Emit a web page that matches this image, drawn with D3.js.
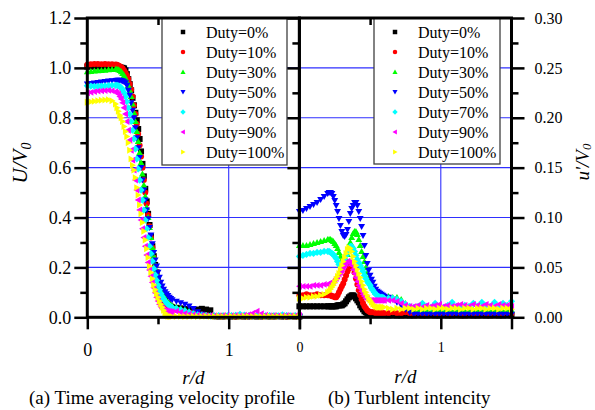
<!DOCTYPE html>
<html><head><meta charset="utf-8">
<script src="https://cdn.jsdelivr.net/npm/d3@7"></script>
<style>
body{margin:0;background:#fff}
svg{display:block}
</style>
</head><body><svg id="c" width="595" height="410"></svg>
<script>
// ---------------- DATA ----------------
const R = [0,0.025,0.05,0.075,0.1,0.125,0.15,0.175,
0.20,0.21,0.22,0.23,0.24,0.25,0.26,0.27,0.28,0.29,
0.30,0.31,0.32,0.33,0.34,0.35,0.36,0.37,0.38,0.39,
0.40,0.41,0.42,0.43,0.44,0.45,0.46,0.47,0.48,0.49,
0.50,0.51,0.52,0.53,0.54,0.55,0.56,0.57,0.58,0.59,0.60,
0.63,0.66,0.69,0.72,0.75,0.78,0.81,0.84,0.87,0.90,
0.93,0.96,0.99,1.02,1.05,1.08,1.11,1.14,1.17,1.20,
1.23,1.26,1.29,1.32,1.35,1.38,1.41,1.44,1.47,1.50];

const seriesNames = ["Duty=0%","Duty=10%","Duty=30%","Duty=50%","Duty=70%","Duty=90%","Duty=100%"];
const seriesColors = ["#000000","#ff0000","#00ff00","#0000ff","#00ffff","#ff00ff","#ffff00"];

// (a) time-averaged velocity U/V0
const U_0 = [1.005,1.005,1.006,1.006,1.005,1.006,1.005,1.005,
1.004,1.004,1.003,1.002,1.001,1.0,0.998,0.99,0.975,0.955,
0.935,0.91,0.88,0.85,0.82,0.79,0.755,0.715,0.665,0.615,
0.565,0.515,0.465,0.415,0.37,0.325,0.285,0.245,0.21,0.18,
0.152,0.128,0.108,0.092,0.078,0.067,0.058,0.052,0.047,0.043,0.04,
0.038,0.036,0.033,0.03,0.027,0.031,0.034,0.031,0.028,0.004,
0.003,0.003,0.004,0.003,0.003,0.004,0.003,0.003,0.004,0.003,
0.003,0.004,0.003,0.003,0.004,0.003,0.003,0.004,0.003,0.003];
const U_10 = [1.013,1.015,1.016,1.016,1.015,1.016,1.015,1.015,
1.014,1.013,1.01,1.007,1.003,0.998,0.99,0.98,0.97,0.955,
0.935,0.913,0.885,0.85,0.815,0.775,0.735,0.69,0.645,0.60,
0.55,0.50,0.455,0.41,0.365,0.32,0.28,0.24,0.205,0.175,
0.145,0.12,0.10,0.083,0.07,0.06,0.052,0.046,0.041,0.037,0.034,
0.03,0.027,0.022,0.018,0.02,0.015,0.01,0.007,0.005,0.004,
0.004,0.003,0.004,0.004,0.003,0.004,0.004,0.003,0.004,0.004,
0.003,0.004,0.004,0.003,0.004,0.004,0.003,0.004,0.004,0.003];
const U_30 = [0.985,0.986,0.988,0.989,0.99,0.991,0.993,0.994,
0.995,0.995,0.993,0.99,0.985,0.978,0.97,0.96,0.945,0.93,
0.91,0.885,0.855,0.82,0.785,0.745,0.705,0.66,0.62,0.575,
0.53,0.485,0.44,0.40,0.36,0.32,0.28,0.245,0.21,0.18,
0.155,0.13,0.112,0.097,0.085,0.075,0.067,0.06,0.055,0.05,0.046,
0.04,0.035,0.03,0.024,0.018,0.012,0.008,0.006,0.005,0.005,
0.005,0.006,0.005,0.005,0.006,0.005,0.005,0.006,0.005,0.005,
0.006,0.005,0.005,0.006,0.005,0.005,0.006,0.005,0.005,0.006];
const U_50 = [0.935,0.937,0.939,0.941,0.943,0.945,0.947,0.948,
0.949,0.95,0.95,0.95,0.949,0.947,0.944,0.94,0.93,0.91,
0.89,0.86,0.83,0.80,0.76,0.72,0.68,0.64,0.60,0.55,
0.51,0.47,0.43,0.395,0.36,0.33,0.295,0.26,0.23,0.205,
0.18,0.16,0.14,0.125,0.112,0.102,0.094,0.087,0.08,0.075,0.07,
0.064,0.058,0.052,0.045,0.035,0.022,0.012,0.006,0.005,0.005,
0.005,0.004,0.005,0.005,0.004,0.005,0.005,0.004,0.005,0.005,
0.004,0.005,0.005,0.004,0.005,0.005,0.004,0.005,0.005,0.004];
const U_70 = [0.928,0.927,0.926,0.926,0.927,0.928,0.929,0.93,
0.93,0.93,0.928,0.925,0.92,0.912,0.90,0.885,0.865,0.84,
0.815,0.785,0.75,0.715,0.675,0.635,0.595,0.55,0.51,0.47,
0.43,0.39,0.355,0.32,0.285,0.255,0.225,0.195,0.17,0.148,
0.128,0.11,0.095,0.083,0.073,0.065,0.058,0.052,0.047,0.043,0.04,
0.035,0.03,0.026,0.02,0.014,0.01,0.008,0.007,0.006,0.006,
0.007,0.006,0.006,0.007,0.008,0.012,0.009,0.006,0.006,0.007,
0.006,0.006,0.007,0.006,0.006,0.01,0.007,0.006,0.007,0.006];
const U_90 = [0.90,0.902,0.905,0.907,0.908,0.909,0.91,0.908,
0.905,0.90,0.895,0.885,0.875,0.86,0.84,0.815,0.785,0.75,
0.71,0.67,0.63,0.59,0.55,0.51,0.47,0.43,0.39,0.355,
0.32,0.285,0.25,0.22,0.19,0.165,0.14,0.118,0.098,0.08,
0.065,0.052,0.042,0.035,0.03,0.027,0.025,0.024,0.023,0.022,0.022,
0.024,0.02,0.015,0.012,0.01,0.008,0.007,0.006,0.007,0.006,
0.006,0.007,0.006,0.006,0.007,0.006,0.008,0.01,0.016,0.024,
0.014,0.008,0.006,0.007,0.006,0.006,0.007,0.006,0.006,0.007];
const U_100 = [0.862,0.864,0.866,0.868,0.87,0.871,0.872,0.868,
0.855,0.84,0.826,0.81,0.80,0.785,0.765,0.745,0.725,0.70,
0.67,0.635,0.61,0.59,0.56,0.52,0.49,0.45,0.415,0.38,
0.345,0.31,0.275,0.24,0.205,0.18,0.155,0.13,0.11,0.095,
0.08,0.065,0.052,0.04,0.028,0.017,0.008,0.004,0.003,0.003,0.003,
0.003,0.004,0.003,0.003,0.004,0.003,0.003,0.004,0.003,0.003,
0.004,0.003,0.003,0.004,0.003,0.003,0.004,0.003,0.003,0.004,
0.003,0.003,0.004,0.003,0.003,0.004,0.003,0.003,0.004,0.003];

// (b) turbulent intensity u'/V0
const T_0 = [0.011,0.011,0.011,0.011,0.011,0.011,0.011,0.011,
0.011,0.011,0.011,0.011,0.011,0.011,0.011,0.012,0.012,0.012,
0.012,0.013,0.014,0.016,0.018,0.02,0.021,0.022,0.022,0.021,
0.019,0.017,0.015,0.012,0.01,0.008,0.006,0.005,0.004,0.003,
0.003,0.003,0.003,0.003,0.003,0.003,0.003,0.003,0.003,0.003,0.003,
0.002,0.003,0.002,0.002,0.003,0.002,0.002,0.003,0.002,0.002,
0.003,0.002,0.002,0.003,0.002,0.002,0.003,0.002,0.002,0.003,
0.002,0.002,0.003,0.002,0.002,0.003,0.002,0.002,0.003,0.002];
const T_10 = [0.022,0.022,0.023,0.022,0.022,0.023,0.022,0.022,
0.022,0.022,0.022,0.021,0.021,0.02,0.02,0.022,0.025,0.028,
0.031,0.034,0.038,0.042,0.046,0.049,0.052,0.052,0.05,0.045,
0.039,0.033,0.027,0.022,0.018,0.014,0.011,0.009,0.007,0.006,
0.005,0.005,0.005,0.005,0.004,0.004,0.004,0.004,0.004,0.004,0.004,
0.004,0.005,0.004,0.004,0.005,0.004,0.004,0.005,0.004,0.004,
0.005,0.004,0.004,0.005,0.004,0.004,0.005,0.004,0.004,0.005,
0.004,0.004,0.005,0.004,0.004,0.005,0.004,0.004,0.005,0.004];
const T_30 = [0.072,0.072,0.072,0.073,0.074,0.075,0.076,0.077,
0.078,0.078,0.078,0.077,0.076,0.074,0.072,0.069,0.065,0.061,
0.058,0.056,0.056,0.058,0.063,0.069,0.075,0.08,0.084,0.086,
0.086,0.083,0.078,0.072,0.066,0.061,0.056,0.05,0.045,0.04,
0.036,0.032,0.029,0.027,0.025,0.024,0.023,0.022,0.022,0.021,0.021,
0.021,0.02,0.02,0.018,0.014,0.01,0.008,0.007,0.006,0.007,
0.006,0.007,0.006,0.006,0.007,0.006,0.006,0.007,0.006,0.006,
0.007,0.006,0.006,0.007,0.006,0.006,0.007,0.006,0.006,0.007];
const T_50 = [0.106,0.107,0.109,0.111,0.113,0.115,0.118,0.121,
0.124,0.125,0.125,0.124,0.121,0.117,0.112,0.106,0.099,0.092,
0.086,0.082,0.081,0.083,0.088,0.096,0.104,0.109,0.112,0.115,
0.115,0.112,0.106,0.099,0.091,0.082,0.072,0.062,0.054,0.047,
0.042,0.038,0.035,0.031,0.028,0.026,0.025,0.024,0.023,0.022,0.021,
0.02,0.018,0.015,0.012,0.008,0.005,0.003,0.003,0.003,0.003,
0.003,0.003,0.003,0.003,0.003,0.003,0.003,0.003,0.003,0.003,
0.003,0.003,0.003,0.003,0.003,0.003,0.003,0.003,0.003,0.003];
const T_70 = [0.061,0.062,0.063,0.064,0.064,0.065,0.065,0.066,
0.066,0.066,0.065,0.064,0.063,0.061,0.059,0.056,0.053,0.051,
0.051,0.053,0.057,0.062,0.066,0.069,0.071,0.071,0.069,0.066,
0.062,0.058,0.055,0.052,0.049,0.046,0.042,0.039,0.036,0.034,
0.032,0.029,0.027,0.025,0.023,0.022,0.021,0.02,0.02,0.02,0.019,
0.019,0.019,0.018,0.016,0.013,0.011,0.01,0.011,0.014,0.011,
0.01,0.014,0.011,0.01,0.012,0.015,0.011,0.01,0.012,0.011,
0.014,0.011,0.015,0.012,0.011,0.015,0.011,0.014,0.012,0.016];
const T_90 = [0.031,0.031,0.031,0.031,0.032,0.032,0.032,0.033,
0.033,0.034,0.034,0.035,0.036,0.037,0.039,0.041,0.043,0.045,
0.047,0.05,0.052,0.054,0.056,0.056,0.055,0.052,0.048,0.044,
0.04,0.036,0.032,0.029,0.026,0.023,0.021,0.019,0.018,0.017,
0.017,0.017,0.017,0.017,0.017,0.017,0.017,0.017,0.017,0.017,0.017,
0.017,0.017,0.016,0.014,0.012,0.011,0.011,0.012,0.01,0.012,
0.011,0.012,0.013,0.011,0.012,0.011,0.012,0.013,0.012,0.011,
0.013,0.012,0.011,0.013,0.012,0.011,0.013,0.012,0.012,0.011];
const T_100 = [0.019,0.019,0.02,0.02,0.021,0.021,0.022,0.023,
0.025,0.026,0.028,0.03,0.032,0.035,0.038,0.041,0.044,0.048,
0.052,0.056,0.06,0.064,0.068,0.07,0.069,0.066,0.061,0.056,
0.052,0.048,0.044,0.04,0.036,0.032,0.028,0.025,0.022,0.019,
0.017,0.015,0.013,0.012,0.011,0.01,0.01,0.01,0.01,0.01,0.01,
0.009,0.008,0.009,0.008,0.009,0.009,0.008,0.009,0.008,0.009,
0.009,0.008,0.009,0.009,0.008,0.009,0.009,0.008,0.009,0.009,
0.008,0.009,0.009,0.008,0.009,0.009,0.008,0.009,0.009,0.008];

const velocitySeries = [U_0,U_10,U_30,U_50,U_70,U_90,U_100];
const turbulenceSeries = [T_0,T_10,T_30,T_50,T_70,T_90,T_100];

const xMajorTicks = [0,1,1.5];
const xMinorTicks = [0.5];
const xTickLabels = {0:"0",1:"1"};
const yLeftMajor = [0,0.2,0.4,0.6,0.8,1.0,1.2];
const yLeftMinor = [0.1,0.3,0.5,0.7,0.9,1.1];
const yLeftGrid = [0.2,0.4,0.6,0.8,1.0];
const yRightMajor = [0,0.05,0.10,0.15,0.20,0.25,0.30];
const yRightMinor = [0.025,0.075,0.125,0.175,0.225,0.275];
const yRightGrid = [0.05,0.10,0.15,0.20,0.25];
const captionA = "(a) Time averaging velocity profile";
const captionB = "(b) Turblent intencity";

const FONT = "Liberation Serif";

// ---------------- SYMBOLS ----------------
const mk = f => ({draw(ctx,size){const s=Math.sqrt(size)/2; f(ctx,s);}});
const symbolTypes = [
  mk((c,s)=>{c.moveTo(-s,-s);c.lineTo(s,-s);c.lineTo(s,s);c.lineTo(-s,s);c.closePath();}),
  mk((c,s)=>{c.moveTo(s,0);c.arc(0,0,s,0,2*Math.PI);}),
  mk((c,s)=>{c.moveTo(0,-1.15*s);c.lineTo(1.15*s,0.85*s);c.lineTo(-1.15*s,0.85*s);c.closePath();}),
  mk((c,s)=>{c.moveTo(0,1.15*s);c.lineTo(1.15*s,-0.85*s);c.lineTo(-1.15*s,-0.85*s);c.closePath();}),
  mk((c,s)=>{c.moveTo(0,-1.2*s);c.lineTo(1.2*s,0);c.lineTo(0,1.2*s);c.lineTo(-1.2*s,0);c.closePath();}),
  mk((c,s)=>{c.moveTo(-1.15*s,0);c.lineTo(0.85*s,-1.15*s);c.lineTo(0.85*s,1.15*s);c.closePath();}),
  mk((c,s)=>{c.moveTo(1.15*s,0);c.lineTo(-0.85*s,-1.15*s);c.lineTo(-0.85*s,1.15*s);c.closePath();})
];

// ---------------- SCALES ----------------
const svg = d3.select("#c").attr("font-family",FONT);
const yTop = 18, yBottom = 317.3;
const xL = d3.scaleLinear().domain([0,1.5]).range([87.3,299.4]);
const yL = d3.scaleLinear().domain([0,1.2]).range([yBottom,yTop]);
const xR = d3.scaleLinear().domain([0,1.5]).range([299.4,511.5]);
const yR = d3.scaleLinear().domain([0,0.3]).range([yBottom,yTop]);

const gridColor = "#2f2fff";

function panel(x, y, ygrid, series, legendX, legendW, legendH) {
  const g = svg.append("g");
  g.selectAll(".hg").data(ygrid).join("line")
    .attr("x1",x(0)).attr("x2",x(1.5)).attr("y1",d=>y(d)).attr("y2",d=>y(d))
    .attr("stroke",gridColor).attr("stroke-width",1.1);
  g.append("line").attr("x1",x(1)).attr("x2",x(1)).attr("y1",y.range()[0]).attr("y2",y.range()[1])
    .attr("stroke",gridColor).attr("stroke-width",1.1);
  series.forEach((vals,i)=>{
    const sym = d3.symbol().type(symbolTypes[i]).size(36);
    g.append("g").selectAll("path").data(R.map((r,k)=>[r,vals[k]])).join("path")
      .attr("transform",d=>`translate(${x(d[0])},${y(d[1])})`)
      .attr("d",sym).attr("fill",seriesColors[i]);
  });
  const lg = svg.append("g");
  lg.append("rect").attr("x",legendX).attr("y",yTop).attr("width",legendW).attr("height",legendH)
    .attr("fill","#fff").attr("stroke","#404040").attr("stroke-width",1.3);
  seriesNames.forEach((n,i)=>{
    const cy = yTop + 14 + i*20;
    lg.append("path").attr("transform",`translate(${legendX+21},${cy})`)
      .attr("d",d3.symbol().type(symbolTypes[i]).size(20)).attr("fill",seriesColors[i]);
    lg.append("text").attr("x",legendX+44).attr("y",cy+5.5).attr("font-size",16)
      .attr("font-family",FONT).text(n);
  });
  return g;
}

panel(xL, yL, yLeftGrid, velocitySeries, 162, 125, 147);
panel(xR, yR, yRightGrid, turbulenceSeries, 374, 126, 146);

// ---------------- AXES ----------------
function styleAxis(sel, w){
  sel.attr("font-family",FONT);
  sel.select(".domain").remove();
  sel.selectAll(".tick line").attr("stroke","#000").attr("stroke-width",w);
  sel.selectAll("text").attr("font-family",FONT).attr("fill","#000");
}
const ax = svg.append("g");
ax.append("g").attr("transform",`translate(${xL(0)},0)`)
  .call(d3.axisLeft(yL).tickValues(yLeftMajor).tickSize(13).tickPadding(3).tickFormat(d3.format(".1f")))
  .call(s=>styleAxis(s,2.5)).selectAll("text").attr("font-size",18);
ax.append("g").attr("transform",`translate(${xL(0)},0)`)
  .call(d3.axisLeft(yL).tickValues(yLeftMinor).tickSize(7).tickFormat(""))
  .call(s=>styleAxis(s,2.5));
ax.append("g").attr("transform",`translate(${xR(0)},0)`)
  .call(d3.axisLeft(yR).tickValues(yRightMajor).tickSize(12).tickFormat(""))
  .call(s=>styleAxis(s,2.5));
ax.append("g").attr("transform",`translate(${xR(0)},0)`)
  .call(d3.axisLeft(yR).tickValues(yRightMinor).tickSize(7).tickFormat(""))
  .call(s=>styleAxis(s,2.5));
ax.append("g").attr("transform",`translate(${xR(1.5)},0)`)
  .call(d3.axisRight(yR).tickValues(yRightMajor).tickSize(13).tickPadding(10).tickFormat(d3.format(".2f")))
  .call(s=>styleAxis(s,2.5)).selectAll("text").attr("font-size",16);
ax.append("g").attr("transform",`translate(${xR(1.5)},0)`)
  .call(d3.axisRight(yR).tickValues(yRightMinor).tickSize(7).tickFormat(""))
  .call(s=>styleAxis(s,2.5));
ax.append("g").attr("transform",`translate(0,${yBottom})`)
  .call(d3.axisBottom(xL).tickValues(xMajorTicks).tickSize(12).tickPadding(14).tickFormat(d=>xTickLabels[d]||""))
  .call(s=>styleAxis(s,2.5)).selectAll("text").attr("font-size",18);
ax.append("g").attr("transform",`translate(0,${yBottom})`)
  .call(d3.axisBottom(xL).tickValues(xMinorTicks).tickSize(7).tickFormat(""))
  .call(s=>styleAxis(s,2.5));
ax.append("g").attr("transform",`translate(0,${yBottom})`)
  .call(d3.axisBottom(xR).tickValues(xMajorTicks).tickSize(12).tickPadding(13).tickFormat(d=>xTickLabels[d]||""))
  .call(s=>styleAxis(s,2.5)).selectAll("text").attr("font-size",14);
ax.append("g").attr("transform",`translate(0,${yBottom})`)
  .call(d3.axisBottom(xR).tickValues(xMinorTicks).tickSize(7).tickFormat(""))
  .call(s=>styleAxis(s,2.5));
ax.append("g").attr("transform",`translate(0,${yTop})`)
  .call(d3.axisTop(xL).tickValues(xMinorTicks).tickSize(-7).tickFormat(""))
  .call(s=>styleAxis(s,2.5));
ax.append("g").attr("transform",`translate(0,${yTop})`)
  .call(d3.axisTop(xR).tickValues(xMinorTicks).tickSize(-7).tickFormat(""))
  .call(s=>styleAxis(s,2.5));

[[xL,yL],[xR,yR]].forEach(([x,y])=>{
  ax.append("rect").attr("x",x(0)).attr("y",y(y.domain()[1])).attr("width",x(1.5)-x(0)).attr("height",y(0)-y(y.domain()[1]))
    .attr("fill","none").attr("stroke","#000").attr("stroke-width",3);
});

// ---------------- TITLES ----------------
const tl = svg.append("text").attr("transform","translate(27,163) rotate(-90)")
  .attr("text-anchor","middle").attr("font-size",21).attr("font-style","italic").attr("font-family",FONT);
tl.append("tspan").text("U/V");
tl.append("tspan").attr("font-size",14).attr("dy",4).text("0");

const tr = svg.append("text").attr("transform","translate(589,162) rotate(-90)")
  .attr("text-anchor","middle").attr("font-size",19).attr("font-style","italic").attr("font-family",FONT);
tr.append("tspan").text("u'/V");
tr.append("tspan").attr("font-size",13).attr("dy",2).text("0");

svg.append("text").attr("x",(xL(0)+xL(1.5))/2).attr("y",384).attr("text-anchor","middle")
  .attr("font-size",19).attr("font-style","italic").attr("font-family",FONT).text("r/d");
svg.append("text").attr("x",(xR(0)+xR(1.5))/2).attr("y",383).attr("text-anchor","middle")
  .attr("font-size",19).attr("font-style","italic").attr("font-family",FONT).text("r/d");

svg.append("text").attr("x",29).attr("y",404).attr("font-size",19).attr("font-family",FONT).text(captionA);
svg.append("text").attr("x",328).attr("y",404).attr("font-size",19).attr("font-family",FONT).text(captionB);
</script>
</body></html>
